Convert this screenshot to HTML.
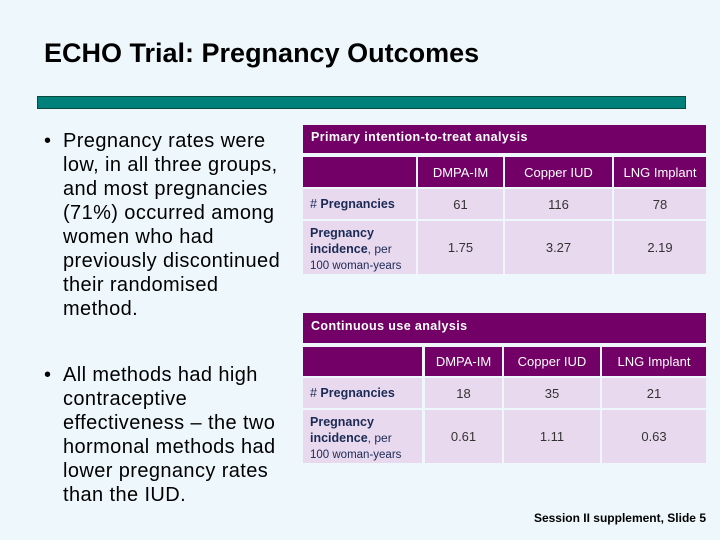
<!DOCTYPE html>
<html><head><meta charset="utf-8">
<style>
body{margin:0;width:720px;height:540px;background:#eef8fc;position:relative;overflow:hidden;font-family:"Liberation Sans",sans-serif;}
.a{position:absolute;}
.title{left:44px;top:38px;font-size:27px;font-weight:bold;color:#000;}
.bar{left:37px;top:96px;width:647px;height:11px;background:#00807a;border:1px solid #0a4a3a;}
.bul{left:44px;font-size:20px;line-height:24px;color:#000;letter-spacing:0.4px;}
.bul .dot{position:absolute;left:0;top:0;}
.bul .txt{position:absolute;left:19px;top:0;white-space:nowrap;}
.hd{background:#720066;color:#fff;font-size:12.5px;font-weight:bold;box-sizing:border-box;padding-left:8px;line-height:24px;letter-spacing:0.4px;}
.ch{background:#720066;color:#fff;font-size:13px;text-align:center;}
.cl{background:#e9d9ee;text-align:center;font-size:13px;color:#333;}
.lab{background:#e9d9ee;color:#1a2a55;font-size:12.5px;box-sizing:border-box;padding-left:7px;}
.flex{display:flex;align-items:center;justify-content:center;}
.fl{display:flex;align-items:center;}
.foot{right:14px;top:511px;font-size:12px;font-weight:bold;color:#000;}
</style></head><body>
<div class="a title">ECHO Trial: Pregnancy Outcomes</div>
<div class="a bar"></div>

<div class="a bul" style="top:129px;width:250px;height:200px">
<span class="dot">•</span>
<div class="txt">Pregnancy rates were<br>low, in all three groups,<br>and most pregnancies<br>(71%) occurred among<br>women who had<br>previously discontinued<br>their randomised<br>method.</div></div>

<div class="a bul" style="top:363px;width:250px;height:150px">
<span class="dot">•</span>
<div class="txt">All methods had high<br>contraceptive<br>effectiveness – the two<br>hormonal methods had<br>lower pregnancy rates<br>than the IUD.</div></div>

<div class="a hd" style="left:303px;top:125px;width:403px;height:28px;line-height:24px">Primary intention-to-treat analysis</div>
<div class="a ch" style="left:303px;top:157px;width:113px;height:30px"></div>
<div class="a ch flex" style="left:418px;top:157px;width:85px;height:30px">DMPA-IM</div>
<div class="a ch flex" style="left:505px;top:157px;width:107px;height:30px">Copper IUD</div>
<div class="a ch flex" style="left:614px;top:157px;width:92px;height:30px">LNG Implant</div>
<div class="a lab fl" style="left:303px;top:189px;width:113px;height:30px"># <b>&nbsp;Pregnancies</b></div>
<div class="a cl flex" style="left:418px;top:189px;width:85px;height:30px">61</div>
<div class="a cl flex" style="left:505px;top:189px;width:107px;height:30px">116</div>
<div class="a cl flex" style="left:614px;top:189px;width:92px;height:30px">78</div>
<div class="a lab" style="left:303px;top:221px;width:113px;height:53px;padding-top:4px;line-height:16px"><b>Pregnancy<br>incidence</b><span style="font-size:12px">, per</span><br><span style="font-size:11.5px">100 woman-years</span></div>
<div class="a cl flex" style="left:418px;top:221px;width:85px;height:53px">1.75</div>
<div class="a cl flex" style="left:505px;top:221px;width:107px;height:53px">3.27</div>
<div class="a cl flex" style="left:614px;top:221px;width:92px;height:53px">2.19</div>

<div class="a hd" style="left:303px;top:313px;width:403px;height:30px;line-height:26px">Continuous use analysis</div>
<div class="a ch" style="left:303px;top:347px;width:119px;height:29px"></div>
<div class="a ch flex" style="left:425px;top:347px;width:77px;height:29px">DMPA-IM</div>
<div class="a ch flex" style="left:504px;top:347px;width:96px;height:29px">Copper IUD</div>
<div class="a ch flex" style="left:602px;top:347px;width:104px;height:29px">LNG Implant</div>
<div class="a lab fl" style="left:303px;top:378px;width:119px;height:30px"># <b>&nbsp;Pregnancies</b></div>
<div class="a cl flex" style="left:425px;top:378px;width:77px;height:30px">18</div>
<div class="a cl flex" style="left:504px;top:378px;width:96px;height:30px">35</div>
<div class="a cl flex" style="left:602px;top:378px;width:104px;height:30px">21</div>
<div class="a lab" style="left:303px;top:410px;width:119px;height:53px;padding-top:4px;line-height:16px"><b>Pregnancy<br>incidence</b><span style="font-size:12px">, per</span><br><span style="font-size:11.5px">100 woman-years</span></div>
<div class="a cl flex" style="left:425px;top:410px;width:77px;height:53px">0.61</div>
<div class="a cl flex" style="left:504px;top:410px;width:96px;height:53px">1.11</div>
<div class="a cl flex" style="left:602px;top:410px;width:104px;height:53px">0.63</div>

<div class="a foot">Session II supplement, Slide 5</div>
</body></html>
